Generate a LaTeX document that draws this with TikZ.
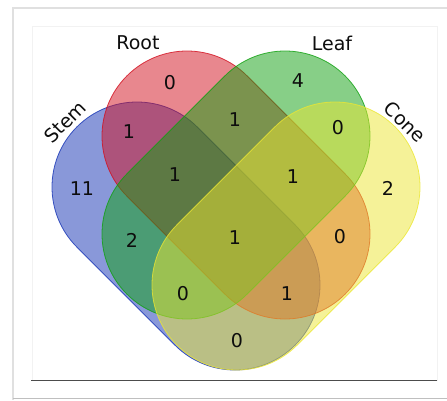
\documentclass[tikz,border=0pt]{standalone}
\usepackage{fontspec}
\setsansfont{DejaVu Sans}

\definecolor{stemblue}{RGB}{20,50,180}
\definecolor{rootred}{RGB}{210,15,30}
\definecolor{leafgreen}{RGB}{15,160,15}
\definecolor{coneyellow}{RGB}{235,230,50}

% one set: colour, centre of the first cap, angle of the long axis
\newcommand{\vennset}[3]{%
	\filldraw[venn,#1,shift={#2},rotate=#3] (0,85) -- (138.6,85) arc (90:-90:85pt) --
		(0,-85) arc (270:90:85pt) -- cycle;}

\begin{document}
\begin{tikzpicture} %four sets
		[x=1pt,y=1pt,
		venn/.style={line width=0.8pt,fill opacity=0.5,draw opacity=0.8},
		count/.style={font=\sffamily\fontsize{19}{19}\selectfont,text=black!95},
		setname/.style={font=\sffamily\fontsize{19}{19}\selectfont,text=black!95}]
	\useasboundingbox (0,0) rectangle (447,400);

	%the card, its shadow and the frame
	\draw[black!12,line width=2pt] (13,0) -- (13,392) -- (447,392);
	\draw[black!25,line width=1pt] (13,1.5) -- (447,1.5);
	\draw[black!5] (32,20) rectangle (437,374);
	\draw[black!70,line width=0.8pt] (31,20) -- (437,20);

	%draw the four sets, back to front
	\vennset{stemblue}{(137,213)}{-45}
	\vennset{rootred}{(187,264)}{-45}
	\vennset{leafgreen}{(187,166)}{45}
	\vennset{coneyellow}{(237,115)}{45}

	%names of the sets
	\node[setname] (root) at (138,357) {Root};
	\node[setname] (leaf) at (332,357) {Leaf};
	\node[setname,rotate=45] (stem) at (65,278) {Stem};
	\node[setname,rotate=-45] (cone) at (405,278) {Cone};

	%counts in the regions
	\node[count] (r) at (170,317) {0};
	\node[count] (l) at (298,319) {4};
	\node[count] (sr) at (129,268) {1};
	\node[count] (rl) at (235,280) {1};
	\node[count] (lc) at (338,272) {0};
	\node[count] (s) at (82,211) {11};
	\node[count] (srl) at (175,225) {1};
	\node[count] (rlc) at (293,223) {1};
	\node[count] (c) at (388,212) {2};
	\node[count] (sl) at (132,160) {2};
	\node[count] (srlc) at (235,162) {1};
	\node[count] (rc) at (340,163) {0};
	\node[count] (slc) at (183,106) {0};
	\node[count] (src) at (287,106) {1};
	\node[count] (sc) at (237,59) {0};
\end{tikzpicture}
\end{document}
